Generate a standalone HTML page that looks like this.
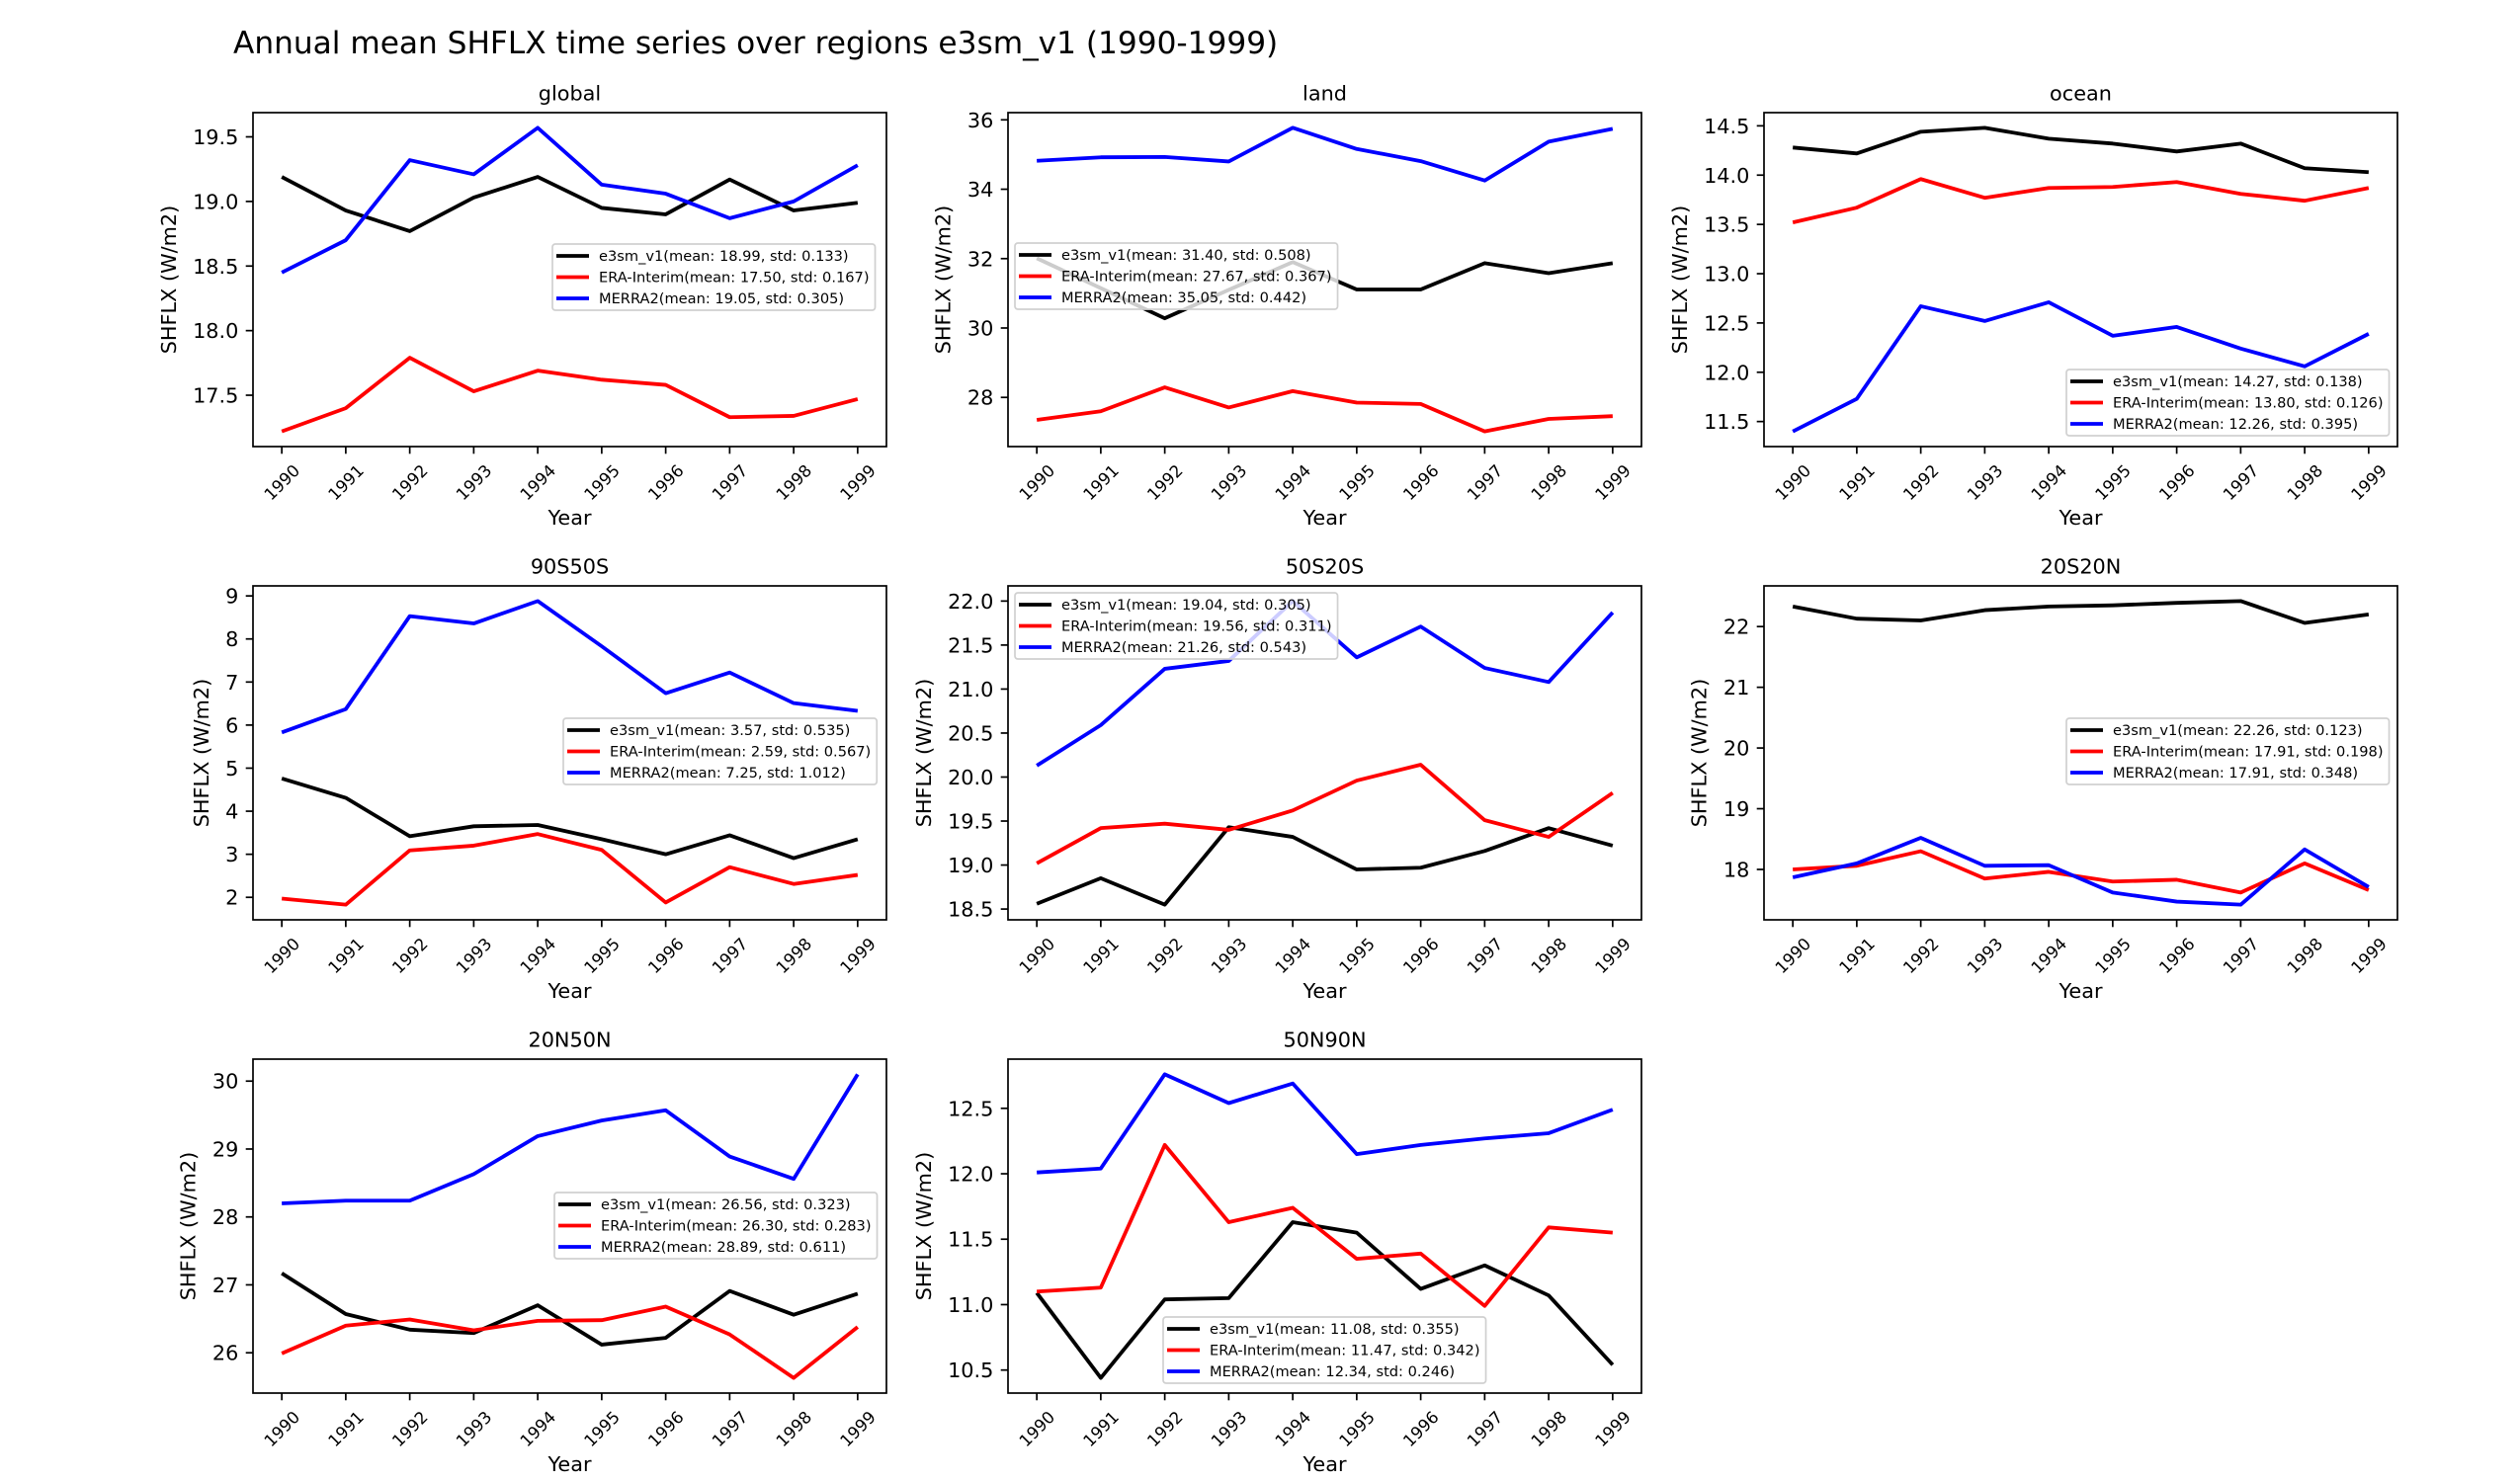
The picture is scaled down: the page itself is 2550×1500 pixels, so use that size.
<!DOCTYPE html>
<html><head><meta charset="utf-8">
<style>
html,body{margin:0;padding:0;background:#fff;}
svg{display:block;font-family:"DejaVu Sans","Liberation Sans",sans-serif;}
</style></head>
<body>
<svg id="fig" width="2550" height="1500" viewBox="0 0 2550 1500" xmlns="http://www.w3.org/2000/svg">
<rect x="0" y="0" width="2550" height="1500" fill="#fff"/>
<text x="236" y="54" font-size="31.2" fill="#000">Annual mean SHFLX time series over regions e3sm_v1 (1990-1999)</text>
</svg>
<script>
const years = [1990,1991,1992,1993,1994,1995,1996,1997,1998,1999];
const seriesNames = ["e3sm_v1","ERA-Interim","MERRA2"];
const seriesColors = ["#000000","#ff0000","#0000ff"];

const regions = ["global","land","ocean","90S50S","50S20S","20S20N","20N50N","50N90N"];

const e3smGlobal = [19.19,18.93,18.77,19.03,19.19,18.95,18.90,19.17,18.93,18.99];
const eraGlobal = [17.22,17.40,17.79,17.53,17.69,17.62,17.58,17.33,17.34,17.47];
const merraGlobal = [18.45,18.70,19.32,19.21,19.57,19.13,19.06,18.87,19.00,19.28];

const e3smLand = [32.01,31.15,30.28,31.10,31.90,31.11,31.11,31.87,31.58,31.87];
const eraLand = [27.35,27.60,28.29,27.71,28.18,27.85,27.81,27.02,27.38,27.46];
const merraLand = [34.82,34.92,34.93,34.80,35.77,35.16,34.81,34.25,35.37,35.74];

const e3smOcean = [14.28,14.22,14.44,14.48,14.37,14.32,14.24,14.32,14.07,14.03];
const eraOcean = [13.52,13.67,13.96,13.77,13.87,13.88,13.93,13.81,13.74,13.87];
const merraOcean = [11.40,11.73,12.67,12.52,12.71,12.37,12.46,12.24,12.06,12.39];

const e3sm90S50S = [4.76,4.31,3.42,3.65,3.68,3.35,3.00,3.44,2.91,3.35];
const era90S50S = [1.97,1.83,3.09,3.20,3.47,3.10,1.88,2.70,2.31,2.52];
const merra90S50S = [5.83,6.37,8.53,8.36,8.88,7.83,6.74,7.22,6.51,6.33];

const e3sm50S20S = [18.56,18.85,18.55,19.43,19.32,18.95,18.97,19.16,19.42,19.22];
const era50S20S = [19.02,19.42,19.47,19.40,19.62,19.96,20.14,19.51,19.32,19.82];
const merra50S20S = [20.13,20.59,21.23,21.32,22.00,21.36,21.71,21.24,21.08,21.87];

const e3sm20S20N = [22.33,22.13,22.10,22.27,22.33,22.35,22.39,22.42,22.06,22.20];
const era20S20N = [18.00,18.06,18.30,17.85,17.96,17.80,17.83,17.62,18.10,17.66];
const merra20S20N = [17.87,18.10,18.52,18.06,18.07,17.62,17.47,17.42,18.33,17.71];

const e3sm20N50N = [27.17,26.57,26.34,26.29,26.70,26.12,26.22,26.91,26.56,26.87];
const era20N50N = [25.99,26.40,26.49,26.33,26.47,26.48,26.68,26.27,25.63,26.38];
const merra20N50N = [28.20,28.24,28.24,28.63,29.19,29.42,29.57,28.89,28.56,30.10];

const e3sm50N90N = [11.09,10.44,11.04,11.05,11.63,11.55,11.12,11.30,11.07,10.54];
const era50N90N = [11.10,11.13,12.22,11.63,11.74,11.35,11.39,10.99,11.59,11.55];
const merra50N90N = [12.01,12.04,12.76,12.54,12.69,12.15,12.22,12.27,12.31,12.49];

const legendMeans = [["18.99","17.50","19.05"],["31.40","27.67","35.05"],["14.27","13.80","12.26"],["3.57","2.59","7.25"],["19.04","19.56","21.26"],["22.26","17.91","17.91"],["26.56","26.30","28.89"],["11.08","11.47","12.34"]];
const legendStds = [["0.133","0.167","0.305"],["0.508","0.367","0.442"],["0.138","0.126","0.395"],["0.535","0.567","1.012"],["0.305","0.311","0.543"],["0.123","0.198","0.348"],["0.323","0.283","0.611"],["0.355","0.342","0.246"]];

const yTicksGlobal = ["17.5","18.0","18.5","19.0","19.5"];
const yTicksLand = ["28","30","32","34","36"];
const yTicksOcean = ["11.5","12.0","12.5","13.0","13.5","14.0","14.5"];
const yTicks90S50S = ["2","3","4","5","6","7","8","9"];
const yTicks50S20S = ["18.5","19.0","19.5","20.0","20.5","21.0","21.5","22.0"];
const yTicks20S20N = ["18","19","20","21","22"];
const yTicks20N50N = ["26","27","28","29","30"];
const yTicks50N90N = ["10.5","11.0","11.5","12.0","12.5"];

const panelSeries = [
 [e3smGlobal,eraGlobal,merraGlobal],[e3smLand,eraLand,merraLand],[e3smOcean,eraOcean,merraOcean],
 [e3sm90S50S,era90S50S,merra90S50S],[e3sm50S20S,era50S20S,merra50S20S],[e3sm20S20N,era20S20N,merra20S20N],
 [e3sm20N50N,era20N50N,merra20N50N],[e3sm50N90N,era50N90N,merra50N90N]];
const panelTicks = [yTicksGlobal,yTicksLand,yTicksOcean,yTicks90S50S,yTicks50S20S,yTicks20S20N,yTicks20N50N,yTicks50N90N];

// layout (not data)
const colX = [256,1020,1785];
const rowY = [114,593,1072];
const AW = 641, AH = 338;
const legendPos = [[559,247],[1027,246],[2091,374],[570,727],[1027,600],[2091,727],[561,1207],[1177,1333]];

const NS = "http://www.w3.org/2000/svg";
const fig = document.getElementById('fig');
function mk(tag, attrs, parent){
  const e = document.createElementNS(NS, tag);
  for (const k in attrs) e.setAttribute(k, attrs[k]);
  (parent||fig).appendChild(e);
  return e;
}

regions.forEach((reg, p) => {
  const L = colX[p%3], T = rowY[Math.floor(p/3)], R = L+AW, B = T+AH;
  const g = mk('g', {});
  
  
  const series = panelSeries[p];
  let mn = Infinity, mx = -Infinity;
  series.forEach(s => s.forEach(v => { mn = Math.min(mn, v); mx = Math.max(mx, v); }));
  const pad = (mx-mn)*0.05; const y0 = mn-pad, y1 = mx+pad;
  const xmin = years[0], xmax = years[years.length-1];
  const xp = (xmax-xmin)*0.05;
  const sx = v => L + (v-(xmin-xp))/((xmax+xp)-(xmin-xp))*AW;
  const sy = v => B - (v-y0)/(y1-y0)*AH;

  const tt = mk('text', {x:(L+R)/2, y:T-12.5, 'text-anchor':'middle', 'font-size':20.8, fill:'#000'}, g);
  tt.textContent = reg;
  
  

  series.forEach((s, si) => {
    const pts = s.map((v,i) => sx(years[i]).toFixed(2)+','+sy(v).toFixed(2)).join(' ');
    const pl = mk('polyline', {points:pts, fill:'none', stroke:seriesColors[si], 'stroke-width':3.8, 'stroke-linejoin':'round', 'stroke-linecap':'butt'}, g);
    
    
  });

  let maxW = 0;
  panelTicks[p].forEach(lbl => {
    const v = parseFloat(lbl); const y = sy(v);
    mk('line', {x1:L-7.3, x2:L, y1:y, y2:y, stroke:'#000', 'stroke-width':1.7}, g);
    const t = mk('text', {x:L-14.6, y:y+7.5, 'text-anchor':'end', 'font-size':20.8, fill:'#000'}, g);
    t.textContent = lbl;
    
    
    maxW = Math.max(maxW, t.getComputedTextLength());
  });
  const ylx = L - 14.6 - maxW - 8.3 - 9;
  const yl = mk('text', {x:ylx, y:(T+B)/2, 'text-anchor':'middle', 'font-size':20.8, fill:'#000', transform:'rotate(-90 '+ylx+' '+((T+B)/2)+')'}, g);
  yl.textContent = 'SHFLX (W/m2)';
  
  

  years.forEach(yr => {
    const x = sx(yr);
    mk('line', {x1:x, x2:x, y1:B, y2:B+7.3, stroke:'#000', 'stroke-width':1.7}, g);
    const fs = 16.7;
    const t = mk('text', {'font-size':fs, 'text-anchor':'middle', fill:'#000'}, g);
    t.textContent = String(yr);
    const w = t.getComputedTextLength();
    const bb = (w + fs*1.1)*0.7071;
    const cx = x, cy = B + 14.6 + bb/2;
    t.setAttribute('x', cx); t.setAttribute('y', cy + fs*0.36);
    t.setAttribute('transform', 'rotate(-45 '+cx+' '+cy+')');
    
    
  });
  const xl = mk('text', {x:(L+R)/2, y:B+79, 'text-anchor':'middle', 'font-size':20.8, fill:'#000'}, g);
  xl.textContent = 'Year';
  
  

  const fr = mk('rect', {x:L, y:T, width:AW, height:AH, fill:'none', stroke:'#000', 'stroke-width':1.7}, g);
  
  

  const [lx, ly] = legendPos[p];
  const lg = mk('g', {}, g);
  
  
  const box = mk('rect', {x:lx, y:ly, width:10, height:67, rx:3, fill:'#fff', 'fill-opacity':0.8, stroke:'#d0d0d0', 'stroke-width':1.7}, lg);
  let tw = 0;
  seriesNames.forEach((nm, si) => {
    const ry = ly + 12 + si*21.5;
    mk('line', {x1:lx+4, x2:lx+37, y1:ry, y2:ry, stroke:seriesColors[si], 'stroke-width':3.8}, lg);
    const t = mk('text', {x:lx+47, y:ry+5.2, 'font-size':14.6, fill:'#000'}, lg);
    t.textContent = nm + '(mean: ' + legendMeans[p][si] + ', std: ' + legendStds[p][si] + ')';
    
    
    tw = Math.max(tw, t.getComputedTextLength());
  });
  box.setAttribute('width', 47 + tw + 6);
});
</script>
</body></html>
